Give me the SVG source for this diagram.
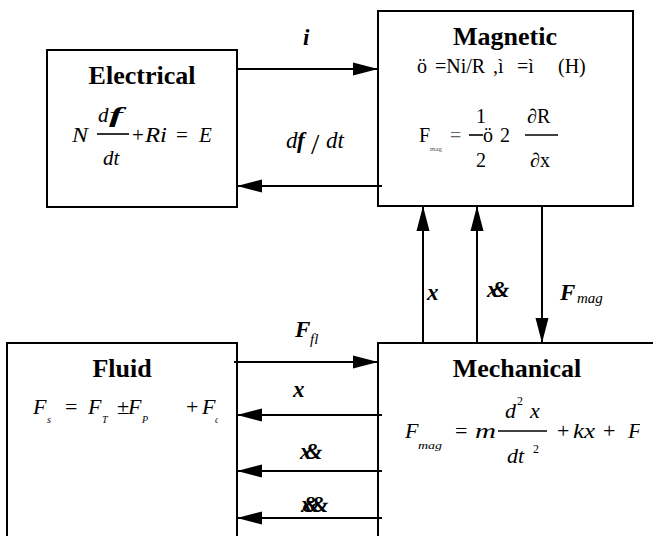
<svg xmlns="http://www.w3.org/2000/svg" width="653" height="536" viewBox="0 0 653 536" font-family="Liberation Serif">
<style>
  .box { fill: #fff; stroke: #000; stroke-width: 2; }
  .conn { stroke: #000; stroke-width: 2; fill: none; }
  .frac { stroke: #000; stroke-width: 1.6; }
</style>
<defs>
  <marker id="ah" markerUnits="userSpaceOnUse" markerWidth="26" markerHeight="14" refX="25" refY="7" orient="auto">
    <path d="M0,0.5 L25,7 L0,13.5 z" fill="#000"/>
  </marker>
  <clipPath id="clipE"><rect x="0" y="0" width="221" height="536"/></clipPath>
  <clipPath id="clipFl"><rect x="0" y="0" width="218" height="536"/></clipPath>
  <clipPath id="clipMe"><rect x="0" y="0" width="640" height="536"/></clipPath>
</defs>

<g id="electrical" font-family="Liberation Serif">
  <rect class="box" x="47" y="50" width="190" height="157"/>
  <text font-family="Liberation Serif" font-size="26" font-weight="bold" text-anchor="middle" x="142" y="84">Electrical</text>
  <g font-size="21" clip-path="url(#clipE)">
    <text font-family="Liberation Serif" font-style="italic" x="72" y="142" textLength="16" lengthAdjust="spacingAndGlyphs">N</text>
    <text font-family="Liberation Serif" font-style="italic" x="98" y="122">d</text>
    <text font-family="Liberation Serif" font-style="italic" font-weight="bold" x="109" y="122" textLength="14" lengthAdjust="spacingAndGlyphs">f</text>
    <line class="frac" x1="97" y1="134" x2="129" y2="134"/>
    <text font-family="Liberation Serif" font-style="italic" x="103" y="165">dt</text>
    <text font-family="Liberation Serif" x="132" y="142">+</text>
    <text font-family="Liberation Serif" font-style="italic" x="145" y="142" textLength="22" lengthAdjust="spacingAndGlyphs">Ri</text>
    <text font-family="Liberation Serif" x="176" y="142">=</text>
    <text font-family="Liberation Serif" font-style="italic" x="199" y="142">E</text>
  </g>
</g>

<g id="magnetic" font-family="Liberation Serif">
  <rect class="box" x="378" y="11" width="255" height="195"/>
  <text font-family="Liberation Serif" font-size="26" font-weight="bold" text-anchor="middle" x="505" y="45">Magnetic</text>
  <g font-size="20">
    <text font-family="Liberation Serif" x="417" y="73">ö</text>
    <text font-family="Liberation Serif" x="435" y="73">=Ni/R</text>
    <text font-family="Liberation Serif" x="493" y="73">,ì</text>
    <text font-family="Liberation Serif" x="517" y="73">=ì</text>
    <text font-family="Liberation Serif" x="558" y="73">(H)</text>
    <text font-family="Liberation Serif" x="419" y="142">F</text>
    <text font-family="Liberation Serif" x="430" y="151" font-size="7" fill="#555">mag</text>
    <text font-family="Liberation Serif" x="450" y="142" fill="#666">=</text>
    <text font-family="Liberation Serif" x="476" y="123">1</text>
    <line class="frac" x1="469" y1="135" x2="483" y2="135"/>
    <text font-family="Liberation Serif" x="476" y="167">2</text>
    <text font-family="Liberation Serif" x="483" y="142">ö</text>
    <text font-family="Liberation Serif" x="500" y="142">2</text>
    <text font-family="Liberation Serif" x="527" y="123">∂R</text>
    <line class="frac" x1="525" y1="135" x2="558" y2="135"/>
    <text font-family="Liberation Serif" x="530" y="167">∂x</text>
  </g>
</g>

<g id="fluid" font-family="Liberation Serif">
  <rect class="box" x="7" y="343" width="230" height="200"/>
  <text font-family="Liberation Serif" font-size="26" font-weight="bold" text-anchor="middle" x="122" y="377">Fluid</text>
  <g font-size="22" clip-path="url(#clipFl)">
    <text font-family="Liberation Serif" font-style="italic" x="33" y="414">F</text>
    <text font-family="Liberation Serif" font-style="italic" font-size="10" x="47" y="423">s</text>
    <text font-family="Liberation Serif" x="65" y="414">=</text>
    <text font-family="Liberation Serif" font-style="italic" x="88" y="414">F</text>
    <text font-family="Liberation Serif" font-style="italic" font-size="10" x="102" y="423">T</text>
    <text font-family="Liberation Serif" x="117" y="414">±</text>
    <text font-family="Liberation Serif" font-style="italic" x="128" y="414">F</text>
    <text font-family="Liberation Serif" font-style="italic" font-size="10" x="142" y="423">P</text>
    <text font-family="Liberation Serif" x="186" y="414">+</text>
    <text font-family="Liberation Serif" font-style="italic" x="202" y="414">F</text>
    <text font-family="Liberation Serif" font-style="italic" font-size="10" x="215" y="423">c</text>
  </g>
</g>

<g id="mechanical" font-family="Liberation Serif">
  <rect class="box" x="378" y="343" width="290" height="200"/>
  <text font-family="Liberation Serif" font-size="26" font-weight="bold" text-anchor="middle" x="517" y="377">Mechanical</text>
  <g font-size="22" clip-path="url(#clipMe)">
    <text font-family="Liberation Serif" font-style="italic" x="405" y="438">F</text>
    <text font-family="Liberation Serif" font-style="italic" x="418" y="449" font-size="11" textLength="24" lengthAdjust="spacingAndGlyphs">mag</text>
    <text font-family="Liberation Serif" x="455" y="438">=</text>
    <text font-family="Liberation Serif" font-style="italic" x="475" y="438" textLength="21" lengthAdjust="spacingAndGlyphs">m</text>
    <text font-family="Liberation Serif" font-style="italic" x="505" y="418">d</text>
    <text font-family="Liberation Serif" x="517" y="405" font-size="12">2</text>
    <text font-family="Liberation Serif" font-style="italic" x="530" y="418">x</text>
    <line class="frac" x1="498" y1="431" x2="547" y2="431"/>
    <text font-family="Liberation Serif" font-style="italic" x="507" y="463">dt</text>
    <text font-family="Liberation Serif" x="533" y="453" font-size="12">2</text>
    <text font-family="Liberation Serif" x="557" y="438">+</text>
    <text font-family="Liberation Serif" font-style="italic" x="573" y="438" textLength="22" lengthAdjust="spacingAndGlyphs">kx</text>
    <text font-family="Liberation Serif" x="603" y="438">+</text>
    <text font-family="Liberation Serif" font-style="italic" x="628" y="438">F</text>
  </g>
</g>

<g id="connectors">
  <line class="conn" x1="237" y1="69" x2="378" y2="69" marker-end="url(#ah)"/>
  <line class="conn" x1="382" y1="186" x2="237" y2="186" marker-end="url(#ah)"/>
  <line class="conn" x1="423" y1="343" x2="423" y2="206" marker-end="url(#ah)"/>
  <line class="conn" x1="477" y1="343" x2="477" y2="206" marker-end="url(#ah)"/>
  <line class="conn" x1="542" y1="206" x2="542" y2="343" marker-end="url(#ah)"/>
  <line class="conn" x1="234" y1="362" x2="378" y2="362" marker-end="url(#ah)"/>
  <line class="conn" x1="382" y1="415" x2="237" y2="415" marker-end="url(#ah)"/>
  <line class="conn" x1="382" y1="471" x2="237" y2="471" marker-end="url(#ah)"/>
  <line class="conn" x1="382" y1="518" x2="237" y2="518" marker-end="url(#ah)"/>
</g>

<g id="labels" font-size="23" font-family="Liberation Serif">
  <text font-family="Liberation Serif" font-style="italic" font-weight="bold" x="303" y="45">i</text>
  <text font-family="Liberation Serif" font-style="italic" x="286" y="148">d</text>
  <text font-family="Liberation Serif" font-style="italic" font-weight="bold" x="297" y="148">f</text>
  <text font-family="Liberation Serif" x="311" y="154" font-size="30">/</text>
  <text font-family="Liberation Serif" font-style="italic" x="326" y="148">dt</text>
  <text font-family="Liberation Serif" font-style="italic" font-weight="bold" x="427" y="300">x</text>
  <text font-family="Liberation Serif" font-style="italic" font-weight="bold" x="487" y="297" letter-spacing="-7">x&amp;</text>
  <text font-family="Liberation Serif" font-style="italic" font-weight="bold" x="560" y="300">F</text>
  <text font-family="Liberation Serif" font-style="italic" x="577" y="303" font-size="15">mag</text>
  <text font-family="Liberation Serif" font-style="italic" font-weight="bold" x="295" y="337">F</text>
  <text font-family="Liberation Serif" font-style="italic" x="310" y="344" font-size="15">fl</text>
  <text font-family="Liberation Serif" font-style="italic" font-weight="bold" x="293" y="397">x</text>
  <text font-family="Liberation Serif" font-style="italic" font-weight="bold" x="300" y="459" letter-spacing="-7">x&amp;</text>
  <text font-family="Liberation Serif" font-style="italic" font-weight="bold" x="301" y="512" letter-spacing="-10">x&amp;&amp;</text>
</g>
</svg>
